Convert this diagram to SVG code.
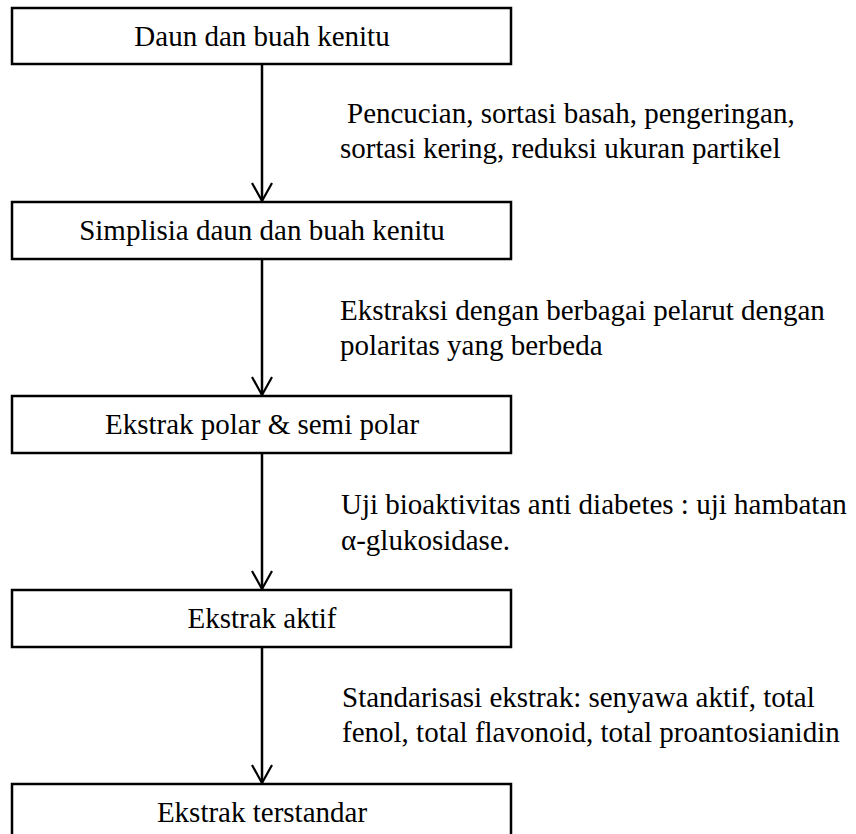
<svg xmlns="http://www.w3.org/2000/svg" width="856" height="834" viewBox="0 0 856 834">
<defs>
<marker id="ah" markerWidth="24" markerHeight="24" refX="20" refY="12" orient="auto" markerUnits="userSpaceOnUse" viewBox="0 0 24 24">
<path d="M2,2 L20,12 L2,22" fill="none" stroke="#000" stroke-width="2.2"/>
</marker>
<style>
.box{fill:#fff;stroke:#000;stroke-width:2.5}
.ln{stroke:#000;stroke-width:2.5;fill:none}
</style>
</defs>
<rect width="856" height="834" fill="#fff"/>
<g id="connectors">
<line class="ln" x1="262" y1="64" x2="262" y2="201" marker-end="url(#ah)"/>
<line class="ln" x1="262" y1="259" x2="262" y2="395" marker-end="url(#ah)"/>
<line class="ln" x1="262" y1="453" x2="262" y2="589" marker-end="url(#ah)"/>
<line class="ln" x1="262" y1="647" x2="262" y2="783" marker-end="url(#ah)"/>
</g>
<g font-family="'Liberation Serif', 'Times New Roman', serif" font-size="29" fill="#000">
<g id="n1" text-anchor="middle"><rect class="box" x="12" y="8" width="499" height="56"/><text x="262" y="46">Daun dan buah kenitu</text></g>
<g id="n2" text-anchor="middle"><rect class="box" x="12" y="202" width="499" height="57"/><text x="262" y="240">Simplisia daun dan buah kenitu</text></g>
<g id="n3" text-anchor="middle"><rect class="box" x="12" y="396" width="499" height="57"/><text x="262" y="434">Ekstrak polar &amp; semi polar</text></g>
<g id="n4" text-anchor="middle"><rect class="box" x="12" y="590" width="499" height="57"/><text x="262" y="628">Ekstrak aktif</text></g>
<g id="n5" text-anchor="middle"><rect class="box" x="12" y="784" width="499" height="60"/><text x="262" y="822">Ekstrak terstandar</text></g>
<g id="labels">
<text x="347" y="123">Pencucian, sortasi basah, pengeringan,</text>
<text x="340" y="158">sortasi kering, reduksi ukuran partikel</text>
<text x="340" y="320">Ekstraksi dengan berbagai pelarut dengan</text>
<text x="340" y="355">polaritas yang berbeda</text>
<text x="341" y="514">Uji bioaktivitas anti diabetes : uji hambatan</text>
<text x="341" y="550">α-glukosidase.</text>
<text x="342" y="707">Standarisasi ekstrak: senyawa aktif, total</text>
<text x="342" y="742">fenol, total flavonoid, total proantosianidin</text>
</g>
</g>
</svg>
